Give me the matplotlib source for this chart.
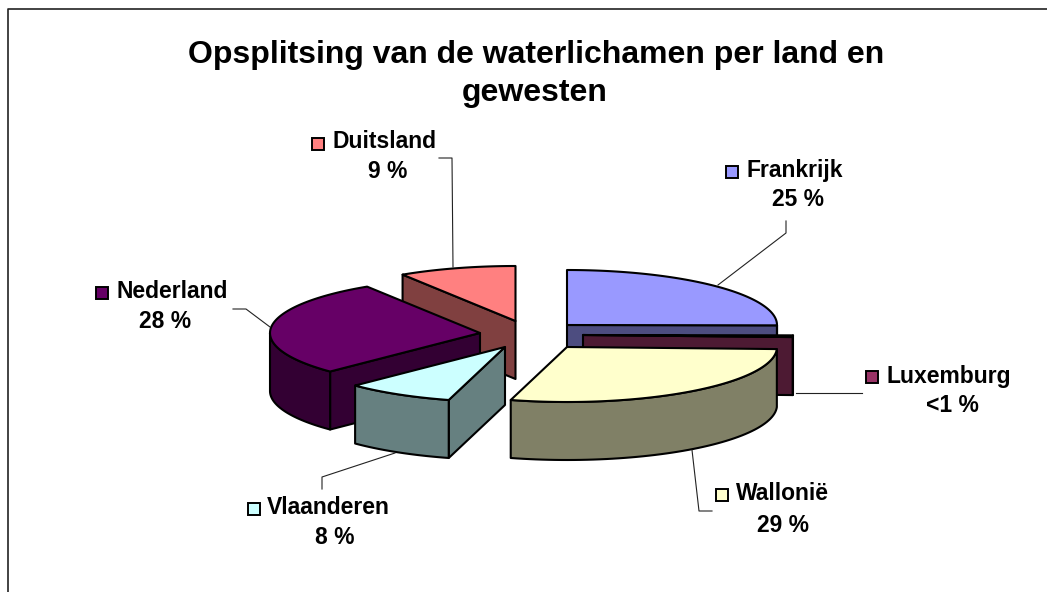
import numpy as np
import matplotlib
matplotlib.use("Agg")
import matplotlib.pyplot as plt
from matplotlib.patches import Polygon, Rectangle

plt.rcParams['font.family'] = ['Liberation Sans', 'DejaVu Sans']

# --- data ---
TITLE = "Opsplitsing van de waterlichamen per land en\ngewesten"
categories = ["Frankrijk", "Luxemburg", "Wallonië", "Vlaanderen", "Nederland", "Duitsland"]
values = [25.0, 0.5, 28.6, 8.3, 28.2, 9.0]
value_labels = ["25 %", "<1 %", "29 %", "8 %", "28 %", "9 %"]

# --- style ---
top_colors = ["#9999FF", "#993366", "#FFFFCC", "#CCFFFF", "#660066", "#FF8080"]
side_colors = ["#4D4D80", "#4D1A33", "#808066", "#668080", "#330033", "#804040"]
apex = [(567, 325), (583, 335), (567, 347), (505, 347), (480, 333), (515.5, 321)]
RX, RY, DEPTH = 210, 55, 58
draw_order = [5, 0, 1, 4, 2, 3]
swatch_xy = [(725.5, 165.5), (865.5, 371), (715.5, 489), (247.5, 503), (95.5, 286.5), (311.5, 137.5)]
name_xy = [(747, 170), (887, 376), (736, 494), (267, 507), (116, 291), (332, 142)]
pct_xy = [(798, 200), (952, 406), (783, 525), (335, 538), (165, 322), (388, 172)]
leaders = [
    [(718, 285), (786, 233), (786, 221)],
    [(796, 393), (862, 393)],
    [(692, 450), (699, 511), (712, 511)],
    [(395, 453), (322, 477), (322, 489)],
    [(270, 327), (246, 309), (233, 309)],
    [(453, 267), (452, 158), (439, 158)],
]

W, H = 1047, 592
fig = plt.figure(figsize=(W / 100, H / 100), dpi=100, facecolor="white")
ax = fig.add_axes([0, 0, 1, 1])
ax.set_xlim(0, W)
ax.set_ylim(H, 0)
ax.axis("off")

LW = 1.5
ax.plot([7.5, 7.5, W], [H, 8.5, 8.5], color="#222222", lw=1.2, zorder=1)

fractions = np.array(values) / np.sum(values)
stops = np.concatenate([[0], np.cumsum(fractions)]) * 2 * np.pi


def rim(center, a):
    return center[0] + RX * np.sin(a), center[1] - RY * np.cos(a)


z = 5
for i in draw_order:
    c = apex[i]
    a0, a1 = stops[i], stops[i + 1]
    # only the radial faces turned towards the viewer
    faces = []
    if np.sin(a0) < 0:
        faces.append(a0)
    if np.sin(a1) > 1e-6:
        faces.append(a1)
    for a in faces:
        x, y = rim(c, a)
        ax.add_patch(Polygon([c, (x, y), (x, y + DEPTH), (c[0], c[1] + DEPTH)], closed=True,
                             fc=side_colors[i], ec="black", lw=LW, joinstyle="round", zorder=z))
        z += 1
    s0, s1 = max(a0, np.pi / 2), min(a1, 3 * np.pi / 2)
    if s1 > s0:
        t = np.linspace(s0, s1, 60)
        xs, ys = rim(c, t)
        pts = list(zip(xs, ys)) + list(zip(xs[::-1], ys[::-1] + DEPTH))
        ax.add_patch(Polygon(pts, closed=True, fc=side_colors[i], ec="black", lw=LW,
                             joinstyle="round", zorder=z))
        z += 1
    t = np.linspace(a0, a1, 80)
    xs, ys = rim(c, t)
    ax.add_patch(Polygon([c] + list(zip(xs, ys)), closed=True, fc=top_colors[i], ec="black", lw=LW,
                         joinstyle="round", zorder=z))
    z += 1

for pts in leaders:
    xs, ys = zip(*pts)
    ax.plot(xs, ys, color="#222222", lw=0.8, zorder=z)

line1, line2 = TITLE.split("\n")
ax.text(536, 54.5, line1, ha="center", va="center", fontsize=23, fontweight="bold", color="black", zorder=z)
ax.text(535, 93, line2, ha="center", va="center", fontsize=23, fontweight="bold", color="black", zorder=z)

for i, name in enumerate(categories):
    sx, sy = swatch_xy[i]
    ax.add_patch(Rectangle((sx, sy), 12, 12, fc=top_colors[i], ec="black", lw=1.4, zorder=z))
    ax.text(*name_xy[i], name, ha="left", va="center", fontsize=16.5, fontweight="bold", color="black", zorder=z)
    ax.text(*pct_xy[i], value_labels[i], ha="center", va="center", fontsize=16.5, fontweight="bold", color="black", zorder=z)

fig.savefig("out.png", dpi=100, facecolor="white")
